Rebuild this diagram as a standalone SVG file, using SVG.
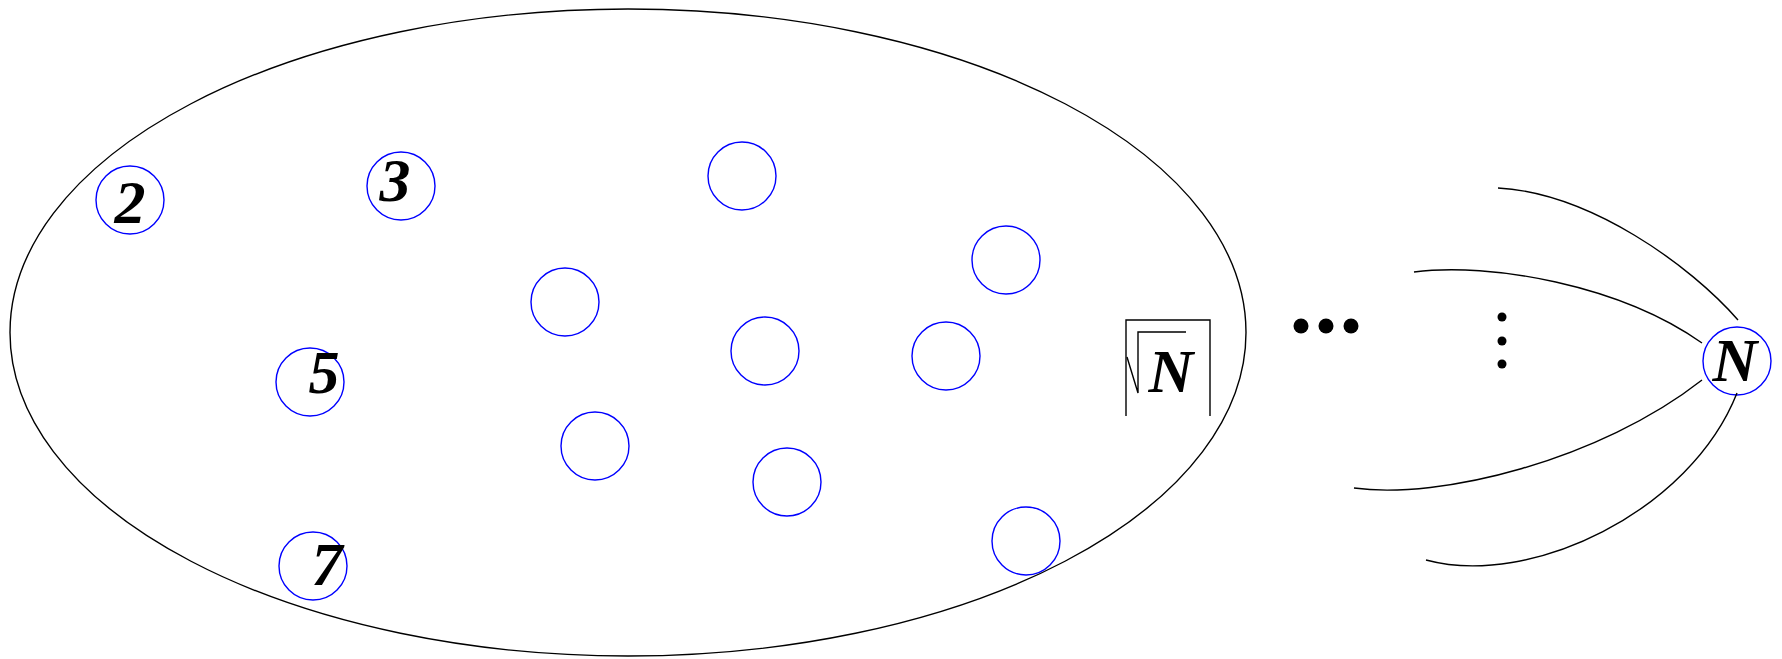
<svg xmlns="http://www.w3.org/2000/svg" width="1782" height="659" viewBox="0 0 1782 659">
<style>
.node{fill:none;stroke:#0000ff;stroke-width:1.4}
.ln{fill:none;stroke:#000;stroke-width:1.4}
.lbl{font-family:"Liberation Serif","Times New Roman",serif;font-weight:bold;font-style:italic;font-size:62px;fill:#000;text-anchor:middle}
.dot{fill:#000}
</style>
<rect width="1782" height="659" fill="#fff"/>
<g id="set">
<ellipse cx="628" cy="332.5" rx="618" ry="323.5" class="ln"/>
</g>
<g id="n2"><circle cx="130" cy="200" r="34" class="node"/><text x="130" y="223" class="lbl">2</text></g>
<g id="n3"><circle cx="401" cy="186" r="34" class="node"/><text x="395" y="201" class="lbl">3</text></g>
<g id="n5"><circle cx="310" cy="382" r="34" class="node"/><text x="324" y="393" class="lbl">5</text></g>
<g id="n7"><circle cx="313" cy="566" r="34" class="node"/><text x="327" y="585" class="lbl">7</text></g>
<g id="a1"><circle cx="742" cy="176" r="34" class="node"/></g>
<g id="a2"><circle cx="1006" cy="260" r="34" class="node"/></g>
<g id="a3"><circle cx="565" cy="302" r="34" class="node"/></g>
<g id="a4"><circle cx="765" cy="351" r="34" class="node"/></g>
<g id="a5"><circle cx="946" cy="356" r="34" class="node"/></g>
<g id="a6"><circle cx="595" cy="446" r="34" class="node"/></g>
<g id="a7"><circle cx="787" cy="482" r="34" class="node"/></g>
<g id="a8"><circle cx="1026" cy="541" r="34" class="node"/></g>
<g id="sqrtN">
<path d="M1126,416 V320 H1210 V416" class="ln"/>
<path d="M1127,357 L1138,393 V332 H1186" class="ln"/>
<text x="1171" y="392" class="lbl">N</text>
</g>
<g id="hdots">
<circle cx="1301" cy="326" r="7.5" class="dot"/>
<circle cx="1326" cy="326" r="7.5" class="dot"/>
<circle cx="1351" cy="326" r="7.5" class="dot"/>
</g>
<g id="vdots">
<circle cx="1502" cy="317" r="4.5" class="dot"/>
<circle cx="1502" cy="341" r="4.5" class="dot"/>
<circle cx="1502" cy="364" r="4.5" class="dot"/>
</g>
<g id="nN"><circle cx="1737" cy="361" r="34" class="node"/><text x="1735" y="381" class="lbl">N</text></g>
<g id="connectors">
<path d="M1498,188 C1590,193 1690,265 1738,320" class="ln"/>
<path d="M1414,272 C1490,262 1620,285 1702,343" class="ln"/>
<path d="M1354,488 C1440,500 1600,460 1702,380" class="ln"/>
<path d="M1426,560 C1530,588 1690,512 1737,393" class="ln"/>
</g>
</svg>
